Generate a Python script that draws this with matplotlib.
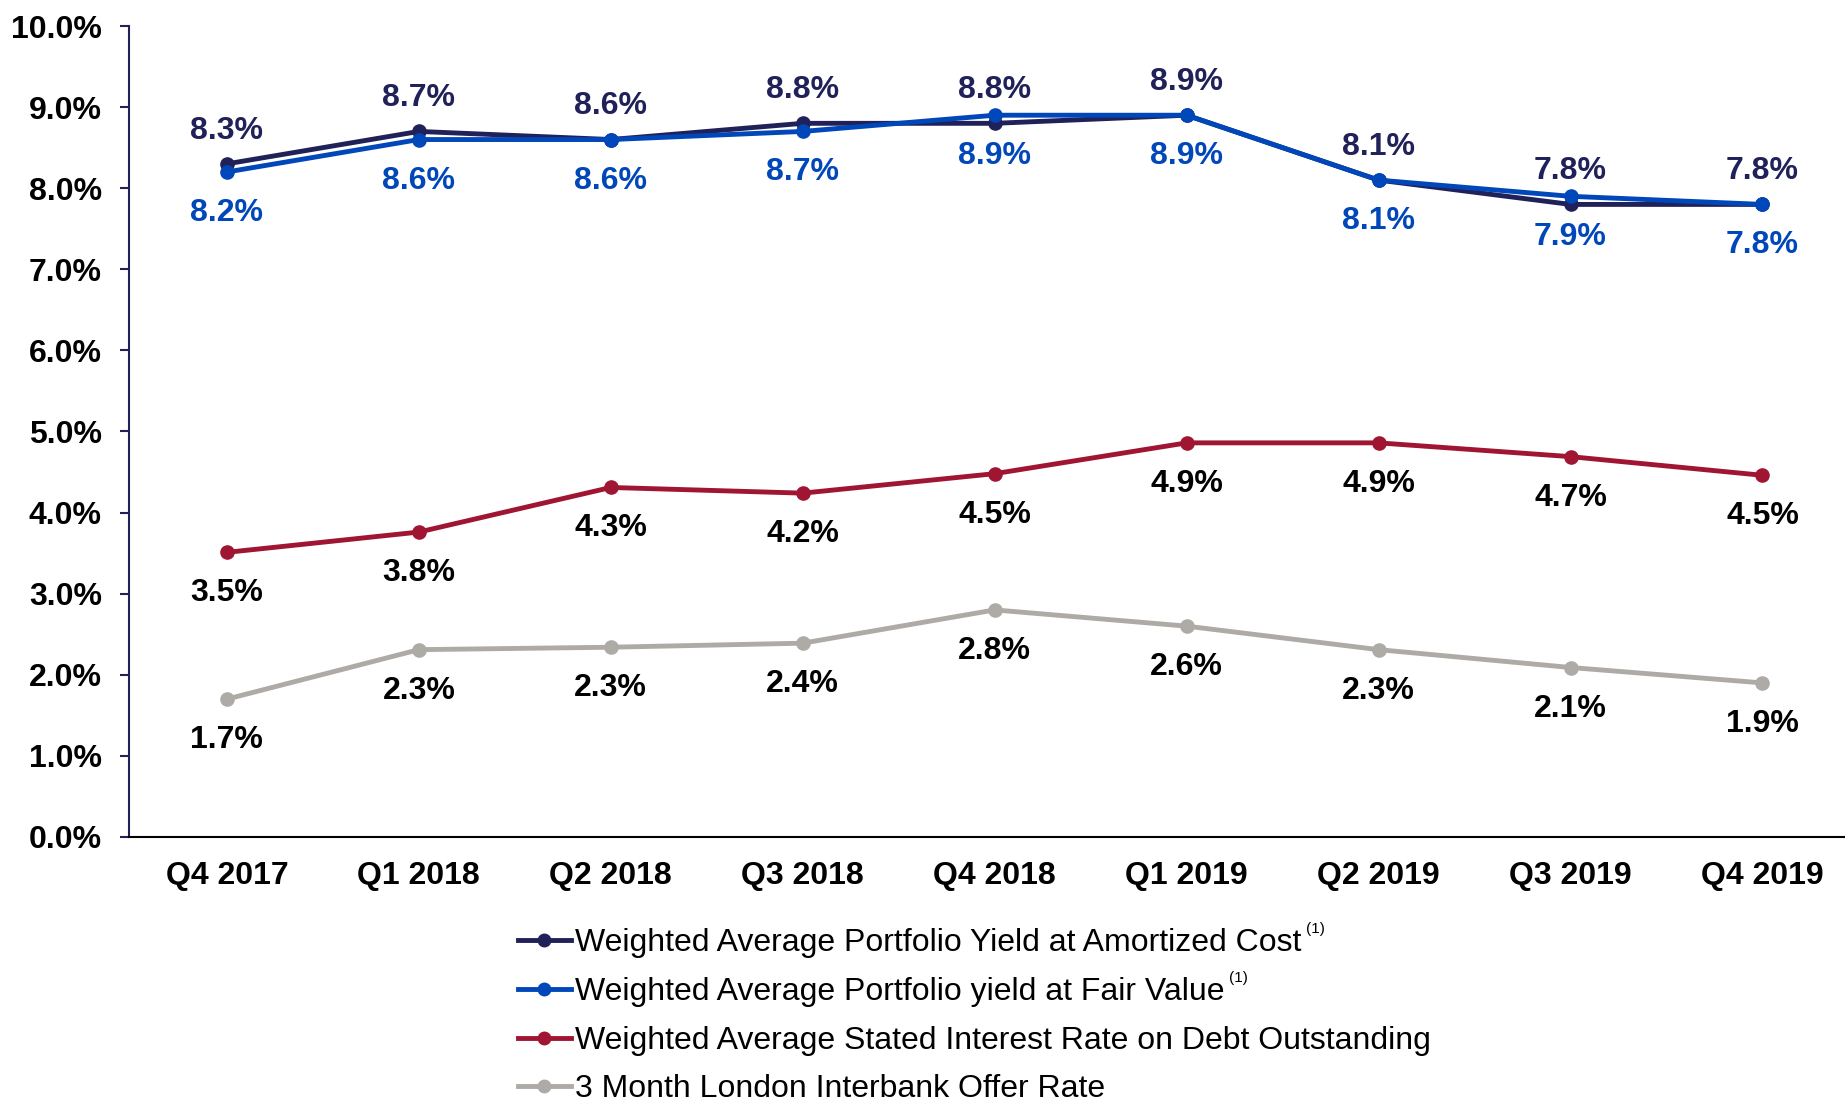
import matplotlib
matplotlib.use("Agg")
import matplotlib.pyplot as plt
from matplotlib.lines import Line2D

quarters = ["Q4 2017", "Q1 2018", "Q2 2018", "Q3 2018", "Q4 2018",
            "Q1 2019", "Q2 2019", "Q3 2019", "Q4 2019"]
amortized = [8.3, 8.7, 8.6, 8.8, 8.8, 8.9, 8.1, 7.8, 7.8]
fair_value = [8.2, 8.6, 8.6, 8.7, 8.9, 8.9, 8.1, 7.9, 7.8]
debt_rate = [3.51, 3.76, 4.31, 4.24, 4.48, 4.86, 4.86, 4.69, 4.46]
debt_labels = ["3.5%", "3.8%", "4.3%", "4.2%", "4.5%", "4.9%", "4.9%", "4.7%", "4.5%"]
libor = [1.70, 2.31, 2.34, 2.39, 2.80, 2.60, 2.31, 2.09, 1.90]
libor_labels = ["1.7%", "2.3%", "2.3%", "2.4%", "2.8%", "2.6%", "2.3%", "2.1%", "1.9%"]
yticks = [0, 1, 2, 3, 4, 5, 6, 7, 8, 9, 10]
ytick_labels = ["0.0%", "1.0%", "2.0%", "3.0%", "4.0%", "5.0%", "6.0%", "7.0%", "8.0%", "9.0%", "10.0%"]
series_names = ["Weighted Average Portfolio Yield at Amortized Cost",
                "Weighted Average Portfolio yield at Fair Value",
                "Weighted Average Stated Interest Rate on Debt Outstanding",
                "3 Month London Interbank Offer Rate"]

C_DARK = "#1F2158"
C_BLUE = "#0047B9"
C_RED = "#A01632"
C_GRAY = "#AEAAA6"
FONT = ["Liberation Sans", "DejaVu Sans"]

W, H = 1845, 1101
fig = plt.figure(figsize=(W / 100, H / 100), dpi=100)
ax = fig.add_axes([129 / W, 1 - 837 / H, 1 - 129 / W, (837 - 26) / H])

x = list(range(len(quarters)))
lw, ms = 3.5, 9.5
ax.plot(x, libor, color=C_GRAY, lw=lw, marker="o", ms=ms, zorder=3)
ax.plot(x, debt_rate, color=C_RED, lw=lw, marker="o", ms=ms, zorder=3)
ax.plot(x, amortized, color=C_DARK, lw=lw, marker="o", ms=ms, zorder=4)
ax.plot(x, fair_value, color=C_BLUE, lw=lw, marker="o", ms=ms, zorder=5)

fs = 23
up, down = 26.5, -27
for i in x:
    ax.annotate(f"{amortized[i]:.1f}%", (i, amortized[i]), xytext=(0, up),
                textcoords="offset points", ha="center", va="center_baseline",
                fontsize=fs, fontweight="bold", color=C_DARK, family=FONT)
    ax.annotate(f"{fair_value[i]:.1f}%", (i, fair_value[i]), xytext=(0, down),
                textcoords="offset points", ha="center", va="center_baseline",
                fontsize=fs, fontweight="bold", color=C_BLUE, family=FONT)
    ax.annotate(debt_labels[i], (i, debt_rate[i]), xytext=(0, down),
                textcoords="offset points", ha="center", va="center_baseline",
                fontsize=fs, fontweight="bold", color="black", family=FONT)
    ax.annotate(libor_labels[i], (i, libor[i]), xytext=(0, down),
                textcoords="offset points", ha="center", va="center_baseline",
                fontsize=fs, fontweight="bold", color="black", family=FONT)

ax.set_xlim(-0.51, 8.43)
ax.set_ylim(0, 10)
ax.set_yticks(yticks)
ax.set_yticklabels(ytick_labels, fontsize=fs, fontweight="bold", family=FONT)
ax.set_xticks(x)
ax.set_xticklabels(quarters, fontsize=fs, fontweight="bold", family=FONT)
ax.tick_params(axis="y", length=6.5, width=1.5, color=C_DARK, pad=13)
ax.tick_params(axis="x", length=0, pad=17)
for s in ["top", "right"]:
    ax.spines[s].set_visible(False)
ax.spines["left"].set_color(C_DARK)
ax.spines["left"].set_linewidth(1.5)
ax.spines["bottom"].set_color("black")
ax.spines["bottom"].set_linewidth(1.5)

# legend (manual layout in figure pixels)
colors = [C_DARK, C_BLUE, C_RED, C_GRAY]
baselines = [951, 1000, 1049, 1097]
texts = []
for name, c, yb in zip(series_names, colors, baselines):
    ym = 1 - (yb - 11) / H
    fig.add_artist(Line2D([518 / W, 571 / W], [ym, ym], color=c, lw=lw,
                          transform=fig.transFigure))
    fig.add_artist(Line2D([544 / W], [ym], color=c, marker="o", ms=9,
                          transform=fig.transFigure))
    t = fig.text(575 / W, 1 - yb / H, name, fontsize=23, family=FONT,
                 va="baseline", ha="left")
    texts.append(t)

fig.canvas.draw()
r = fig.canvas.get_renderer()
for t, yb in zip(texts[:2], baselines[:2]):
    bb = t.get_window_extent(renderer=r)
    fig.text((bb.x1 + 5) / W, 1 - (yb - 22) / H, "(1)", fontsize=11, family=FONT,
             va="center", ha="left")

fig.savefig("out.png", dpi=100)
